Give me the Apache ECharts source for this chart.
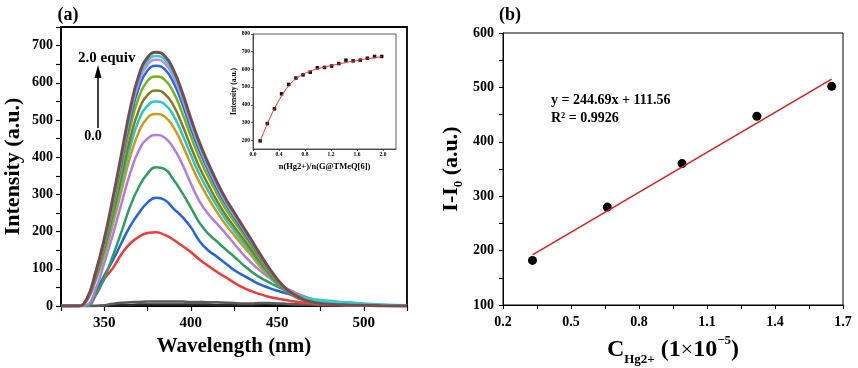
<!DOCTYPE html>
<html>
<head>
<meta charset="utf-8">
<script src="https://cdn.jsdelivr.net/npm/echarts@6/dist/echarts.min.js"></script>
<style>html,body{margin:0;padding:0;background:#fff;}#c{width:858px;height:368px;}</style>
</head>
<body>
<div id="c"></div>
<script>
// ---------- Panel (a): emission spectra ----------
const wavelengths = [325,330,335,340,345,350,355,360,365,370,375,380,385,390,395,400,405,410,415,420,425,430,435,440,445,450,455,460,465,470,475,480,490,500,510,525];
const specBlack  = [0,0,0,0,0,1,2,3,3,4,4,4,4,4,4,4,4,4,3,3,3,3,3,4,5,5,4,3,3,2,2,2,1,1,0,0];
const specGray   = [0,0,0,0,0,2,6,9,10,11,12,12,12,12,12,11,11,10,10,9,8,7,7,8,8,7,6,5,4,4,3,3,2,2,1,1];
const specRed    = [0,0,0,0,28,72,102,140,168,186,196,198,191,178,162,145,125,108,92,78,63,50,40,32,25,20,16,12,9,6,4,3,2,1,0,0];
const specBlue   = [0,0,0,2,38,82,123,170,215,250,278,291,285,262,240,212,175,150,133,115,97,83,70,58,49,41,34,28,21,15,10,7,4,2,1,0];
const specGreen  = [0,0,0,0,30,75,135,200,268,320,356,373,368,340,305,265,224,195,174,153,133,112,93,77,64,52,42,34,26,18,12,8,4,2,1,0];
const specPurple = [0,0,0,3,45,115,192,276,357,418,450,460,452,425,382,330,282,248,222,196,168,140,116,95,77,61,48,37,27,18,12,8,4,2,1,0];
const specGold   = [0,0,0,15,68,136,220,310,401,468,506,516,509,481,435,382,333,291,254,220,191,163,136,106,82,60,45,34,25,16,10,7,4,2,1,0];
const specCyan   = [0,0,0,16,73,145,234,330,427,500,538,550,542,512,463,407,354,310,270,234,203,173,144,113,84,58,40,30,24,19,16,14,10,7,4,2];
const specOlive  = [0,0,0,17,76,153,246,348,450,526,567,579,570,539,488,429,373,327,284,246,214,183,151,119,88,61,40,25,15,9,6,4,3,2,1,0];
const specLime   = [0,0,0,18,81,163,262,371,480,561,605,617,608,575,520,457,398,348,303,262,228,195,161,127,94,65,43,27,16,10,6,5,3,2,1,0];
const specBlue2  = [0,0,0,19,85,170,275,388,502,587,633,646,636,601,545,478,417,365,317,275,239,204,169,133,98,68,45,28,17,10,7,5,3,2,1,0];
const specViolet = [0,0,0,19,87,175,281,398,514,601,648,662,652,616,558,490,427,373,325,281,244,209,173,136,101,70,46,29,17,11,7,5,3,2,1,0];
const specCyan2  = [0,0,0,20,89,177,286,404,522,611,658,672,662,625,566,497,433,379,330,286,248,212,175,138,102,71,46,32,22,16,13,11,8,5,3,1];
const specBrown  = [0,0,0,20,90,180,290,410,530,620,668,682,672,635,575,505,440,385,335,290,252,215,178,140,104,72,47,30,18,11,7,5,3,2,1,0];

// ---------- Inset: intensity vs ratio ----------
const insetRatio  = [0.11,0.22,0.33,0.44,0.55,0.66,0.77,0.88,0.99,1.10,1.21,1.32,1.43,1.54,1.65,1.76,1.87,1.98];
const insetPoints = [196,294,377,462,515,551,569,584,609,611,619,633,652,648,652,663,673,673];
const insetFit    = [195,292,378,450,508,547,572,590,603,613,622,631,639,646,653,660,666,672];
const insetYTicks = [200,300,400,500,600,700,800];
const insetXTicks = [0,0.4,0.8,1.2,1.6,2.0];

// ---------- Panel (b): linear fit ----------
const concX   = [0.33,0.66,0.99,1.32,1.65];
const deltaI  = [182,280,360,447,502];
const fitX    = [0.33,1.65];
const fitY    = [192.3,515.3];
const bXLabels = [0.2,0.5,0.8,1.1,1.4,1.7];
const bXTicks  = [0.2,0.35,0.5,0.65,0.8,0.95,1.1,1.25,1.4,1.55,1.7];

const FONT = '"Liberation Serif", "Times New Roman", serif';
const zip = (xs, ys) => xs.map((x, i) => [x, ys[i]]);

const specList = [
  [specBlack, '#2a2a2a'], [specGray, '#5a5a5a'], [specRed, '#f23a3a'], [specBlue, '#1f63e6'],
  [specGreen, '#2e9e5e'], [specPurple, '#b27ce8'], [specGold, '#d09a14'], [specCyan, '#22c8cc'],
  [specOlive, '#85791c'], [specLime, '#72b80a'], [specBlue2, '#2a62ea'], [specViolet, '#c08af0'],
  [specCyan2, '#2fcfcf'], [specBrown, '#7b4b4b']
];

const chart = echarts.init(document.getElementById('c'), null, {renderer: 'canvas'});

const axisBase = (fs) => ({
  axisLine: {show: true, onZero: false, lineStyle: {color: '#000', width: 1.5}},
  axisTick: {show: true, inside: false, length: 5, lineStyle: {color: '#000', width: 1.2}},
  axisLabel: {color: '#000', fontFamily: FONT, fontWeight: 'bold', fontSize: fs},
  splitLine: {show: false},
  nameTextStyle: {color: '#000', fontFamily: FONT, fontWeight: 'bold'}
});

const series = [];
specList.forEach(([arr, col]) => {
  series.push({
    type: 'line', xAxisIndex: 0, yAxisIndex: 0, data: zip(wavelengths, arr),
    showSymbol: false, smooth: 0.5,
    lineStyle: {color: col, width: (col === '#7b4b4b') ? 3 : 2.5}, silent: true
  });
});
series.push({
  type: 'line', xAxisIndex: 1, yAxisIndex: 1, data: zip(insetRatio, insetFit),
  showSymbol: false, smooth: 0.4, lineStyle: {color: '#ff2a2a', width: 1}, silent: true
});
series.push({
  type: 'scatter', xAxisIndex: 1, yAxisIndex: 1, data: zip(insetRatio, insetPoints),
  symbol: 'rect', symbolSize: 3.5, itemStyle: {color: '#111', opacity: 1}, silent: true
});
series.push({
  type: 'line', xAxisIndex: 2, yAxisIndex: 2, data: zip(fitX, fitY),
  showSymbol: false, lineStyle: {color: '#d41f1f', width: 1.5}, silent: true
});
series.push({
  type: 'scatter', xAxisIndex: 2, yAxisIndex: 2, data: zip(concX, deltaI),
  symbol: 'circle', symbolSize: 9, itemStyle: {color: '#000', opacity: 1}, silent: true
});

const option = {
  animation: false,
  backgroundColor: '#fff',
  grid: [
    {left: 61, top: 27, width: 346, height: 279, show: true, borderColor: '#000', borderWidth: 1.8, backgroundColor: 'transparent', outerBoundsMode: 'none', containLabel: false},
    {left: 253, top: 34, width: 143, height: 115, show: true, borderColor: '#333', borderWidth: 0.8, backgroundColor: '#fff', outerBoundsMode: 'none', containLabel: false},
    {left: 503, top: 33, width: 340, height: 272, show: true, borderColor: '#000', borderWidth: 1, backgroundColor: 'transparent', outerBoundsMode: 'none', containLabel: false}
  ],
  xAxis: [
    Object.assign(axisBase(15), {
      gridIndex: 0, type: 'value', min: 325, max: 525, interval: 25,
      axisLabel: Object.assign(axisBase(15).axisLabel, {margin: 10, formatter: v => (v % 50 === 0 ? String(v) : '')}),
      name: 'Wavelength (nm)', nameLocation: 'middle', nameGap: 30,
      nameTextStyle: {color: '#000', fontFamily: FONT, fontWeight: 'bold', fontSize: 21}
    }),
    Object.assign(axisBase(5), {
      gridIndex: 1, type: 'value', min: 0, max: 2.2,
      axisLine: {show: true, onZero: false, lineStyle: {color: '#333', width: 0.8}},
      axisTick: {show: true, length: 2, customValues: insetXTicks, lineStyle: {color: '#333', width: 0.8}},
      axisLabel: {color: '#000', fontFamily: FONT, fontWeight: 'bold', fontSize: 5.5, margin: 3,
        customValues: insetXTicks, formatter: v => Number(v).toFixed(1)},
      name: 'n(Hg2+)/n(G@TMeQ[6])', nameLocation: 'middle', nameGap: 13,
      nameTextStyle: {color: '#000', fontFamily: FONT, fontWeight: 'bold', fontSize: 8.5}
    }),
    Object.assign(axisBase(14), {
      gridIndex: 2, type: 'value', min: 0.2, max: 1.7,
      axisLine: {show: true, onZero: false, lineStyle: {color: '#000', width: 1}},
      axisTick: {show: true, length: 4, customValues: bXTicks, lineStyle: {color: '#000', width: 1}},
      axisLabel: {color: '#000', fontFamily: FONT, fontWeight: 'bold', fontSize: 14, margin: 10,
        customValues: bXLabels, formatter: v => Number(v).toFixed(1)},
      name: '{c|C}{s|Hg2+}{c| (1}{x|×}{c|10}{p|−5}{c|)}', nameLocation: 'middle', nameGap: 28,
      nameTextStyle: {
        color: '#000', fontFamily: FONT, fontWeight: 'bold',
        rich: {
          c: {fontFamily: FONT, fontWeight: 'bold', fontSize: 24, color: '#000', lineHeight: 32, verticalAlign: 'middle'},
          x: {fontFamily: FONT, fontWeight: 'normal', fontSize: 22, color: '#000', lineHeight: 32, verticalAlign: 'middle'},
          s: {fontFamily: FONT, fontWeight: 'bold', fontSize: 13, color: '#000', lineHeight: 32, verticalAlign: 'bottom'},
          p: {fontFamily: FONT, fontWeight: 'bold', fontSize: 13, color: '#000', lineHeight: 32, verticalAlign: 'top'}
        }
      }
    })
  ],
  yAxis: [
    Object.assign(axisBase(14), {
      gridIndex: 0, type: 'value', min: 0, max: 750, interval: 50,
      axisLabel: Object.assign(axisBase(14).axisLabel, {margin: 8, formatter: v => (v % 100 === 0 ? String(v) : '')}),
      name: 'Intensity (a.u.)', nameLocation: 'middle', nameGap: 37, nameRotate: 90,
      nameTextStyle: {color: '#000', fontFamily: FONT, fontWeight: 'bold', fontSize: 22}
    }),
    Object.assign(axisBase(5), {
      gridIndex: 1, type: 'value', min: 150, max: 800,
      axisLine: {show: true, onZero: false, lineStyle: {color: '#333', width: 0.8}},
      axisTick: {show: true, length: 2, customValues: insetYTicks, lineStyle: {color: '#333', width: 0.8}},
      axisLabel: {color: '#000', fontFamily: FONT, fontWeight: 'bold', fontSize: 5.5, margin: 3, customValues: insetYTicks},
      name: 'Intensity (a.u.)', nameLocation: 'middle', nameGap: 13, nameRotate: 90,
      nameTextStyle: {color: '#000', fontFamily: FONT, fontWeight: 'bold', fontSize: 7.5}
    }),
    Object.assign(axisBase(14), {
      gridIndex: 2, type: 'value', min: 100, max: 600, interval: 100,
      axisLine: {show: true, onZero: false, lineStyle: {color: '#000', width: 1}},
      axisTick: {show: true, length: 4, lineStyle: {color: '#000', width: 1}},
      minorTick: {show: true, splitNumber: 2, length: 4, lineStyle: {color: '#000', width: 1}},
      axisLabel: Object.assign(axisBase(14).axisLabel, {margin: 9}),
      name: '{a|I-I}{s|0}{a| (a.u.)}', nameLocation: 'middle', nameGap: 38, nameRotate: 90,
      nameTextStyle: {
        color: '#000', fontFamily: FONT, fontWeight: 'bold',
        rich: {
          a: {fontFamily: FONT, fontWeight: 'bold', fontSize: 22, color: '#000', lineHeight: 28, verticalAlign: 'middle'},
          s: {fontFamily: FONT, fontWeight: 'bold', fontSize: 13, color: '#000', lineHeight: 28, verticalAlign: 'bottom'}
        }
      }
    })
  ],
  graphic: [
    {type: 'text', style: {text: '(a)', x: 68, y: 15, font: 'bold 18px ' + FONT, fill: '#000', textAlign: 'center', textVerticalAlign: 'middle'}},
    {type: 'text', style: {text: '(b)', x: 510, y: 15, font: 'bold 18px ' + FONT, fill: '#000', textAlign: 'center', textVerticalAlign: 'middle'}},
    {type: 'text', style: {text: '2.0 equiv', x: 78, y: 58, font: 'bold 15px ' + FONT, fill: '#000', textAlign: 'left', textVerticalAlign: 'middle'}},
    {type: 'text', style: {text: '0.0', x: 93, y: 136, font: 'bold 14px ' + FONT, fill: '#000', textAlign: 'center', textVerticalAlign: 'middle'}},
    {type: 'line', shape: {x1: 98, y1: 128, x2: 98, y2: 76}, style: {stroke: '#000', lineWidth: 1.5}},
    {type: 'polygon', shape: {points: [[98, 65], [94.5, 78], [101.5, 78]]}, style: {fill: '#000'}},
    {type: 'text', style: {text: 'y = 244.69x + 111.56', x: 551, y: 100, font: 'bold 14px ' + FONT, fill: '#000', textAlign: 'left', textVerticalAlign: 'middle'}},
    {type: 'text', style: {text: 'R² = 0.9926', x: 551, y: 118, font: 'bold 14px ' + FONT, fill: '#000', textAlign: 'left', textVerticalAlign: 'middle'}}
  ],
  series: series
};
chart.setOption(option);
</script>
</body>
</html>
